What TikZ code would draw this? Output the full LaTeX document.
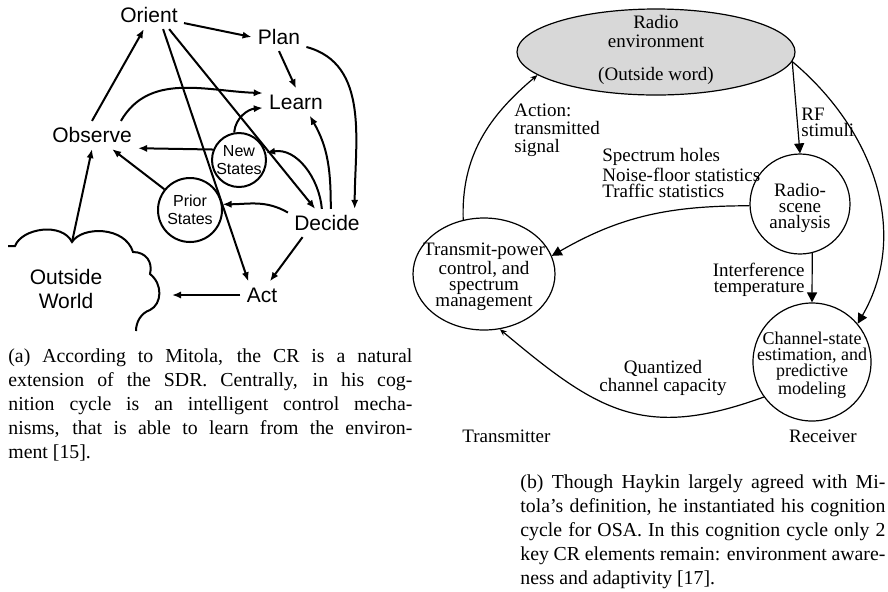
\documentclass[tikz,border=0pt]{standalone}
\usepackage{fontspec}
\setmainfont{Liberation Serif}
\newfontfamily\helv{Liberation Sans}
\usetikzlibrary{arrows.meta,shapes.geometric}

\definecolor{envgray}{RGB}{216,216,216}

\tikzset{
  state/.style={font=\helv\fontsize{10.5}{12}\selectfont, inner sep=3pt, align=center},
  memory/.style={circle, draw, line width=1pt, inner sep=0pt, align=center,
    font=\helv\fontsize{8}{9}\selectfont},
  mitola/.style={line width=1pt, -{Latex[length=4.5pt,width=3.6pt]}},
  block/.style={draw, line width=0.6pt, inner sep=0pt},
  note/.style={font=\fontsize{9.5}{8}\selectfont, inner sep=0pt},
  haykin/.style={line width=0.6pt, -{Triangle[length=5pt,width=5pt]}},
  haykinthin/.style={line width=0.6pt, -{Stealth[length=3.5pt,width=2.8pt]}},
  caption/.style={inner sep=0pt, align=justify, font=\fontsize{9.9}{12}\selectfont}
}

\begin{document}
\begin{tikzpicture}[x=0.5pt, y=-0.5pt]

% Page frame
\useasboundingbox (0,0) rectangle (888,591);

% ---------- (a) Mitola cycle ----------

% Steps of the cycle
\node[state] (orient) at (149,15) {Orient};
\node[state] (plan) at (279,37) {Plan};
\node[state] (learn) at (296,102) {Learn};
\node[state] (observe) at (92,135) {Observe};
\node[state] (decide) at (327,223) {Decide};
\node[state] (act) at (262,295) {Act};

% States
\node[memory, minimum size=27pt] (newst) at (239,160) {New\\States};
\node[memory, minimum size=32pt] (prior) at (190,210) {Prior\\States};

% Outside world cloud
\coordinate (dip) at (72,242);
\coordinate (wedge) at (172,295);
\draw[line width=1pt] (8,246) -- (15,246)
  .. controls (22,228) and (62,222) .. (dip)
  .. controls (82,226) and (125,226) .. (133,252)
  .. controls (146,252) and (153,262) .. (150,274)
  .. controls (163,284) and (162,304) .. (150,310)
  .. controls (141,313) and (136,322) .. (136,331);
\node[state] (world) at (66,289) {Outside\\World};

% Straight arrows
\draw[mitola] (dip) -- (observe.south);
\draw[mitola] (observe.north) -- (orient.250);
\draw[mitola] (orient.-13) -- (plan.west);
\draw[mitola] (orient.-45) -- (act.135);
\draw[mitola] (orient.-35) -- (decide.130);
\draw[mitola] (plan.south) -- (learn.north);
\draw[mitola] (decide.-150) -- (act.60);
\draw[mitola] (act.west) -- (wedge);
\draw[mitola] (newst.158) -- (observe.-16);
\draw[mitola] (prior.141) -- (observe.-35);

% Curved arrows
\draw[mitola] (plan.-20) to[out=-15, in=90] (decide.27);
\draw[mitola] (observe.26) to[out=60, in=178] (learn.165);
\draw[mitola] (newst.100) to[out=85, in=185] (learn.190);
\draw[mitola] (decide.75) to[out=90, in=-60] (learn.-45);
\draw[mitola] (decide.110) to[out=95, in=10] (newst.15);
\draw[mitola] (decide.165) to[out=150, in=0] (prior.10);

% Caption (a)
\node[caption, anchor=north west, text width=202pt] (capa) at (8,348) {\noindent
(a) According to Mitola, the CR is a natural\linebreak
extension of the SDR. Centrally, in his cog-\linebreak
nition cycle is an intelligent control mecha-\linebreak
nisms, that is able to learn from the environ-\linebreak
ment [15].};

% ---------- (b) Haykin cycle ----------

% Blocks
\node[block, ellipse, fill=envgray, minimum width=139pt, minimum height=43pt] (env) at (656,52) {};
\node[block, circle, minimum size=50pt] (scene) at (800,204) {};
\node[block, ellipse, minimum width=71pt, minimum height=56pt] (tpc) at (484,274) {};
\node[block, circle, minimum size=59pt] (chan) at (812,362) {};

% Block texts
\node[note, align=center, font=\fontsize{9.5}{9.5}\selectfont] (envtxt) at (656,50) {Radio\\environment\\[7pt](Outside word)};
\node[note, align=center] (scenetxt) at (800,208) {Radio-\\scene\\analysis};
\node[note, align=center] (tpctxt) at (484,277) {Transmit-power\\control, and\\spectrum\\management};
\node[note, align=center, font=\fontsize{9}{8}\selectfont] (chantxt) at (812,365) {Channel-state\\estimation, and\\predictive\\modeling};

% Arrows
\draw[haykin] (env.-4) -- (scene.north);
\draw[haykin] (env.-4) to[out=-40, in=60] (chan.40);
\draw[haykin] (scene.182) to[out=180, in=30] (tpc.15);
\draw[haykin] (scene.-76) -- (chan.north);
\draw[haykinthin] (chan.216) to[out=200, in=-40, looseness=1.2] (tpc.-74);
\draw[haykinthin] (tpc.111) to[out=92, in=-140] (env.191);

% Arrow labels
\node[note, align=left, anchor=west, font=\fontsize{9.5}{9}\selectfont] (actlbl) at (514,130) {Action:\\transmitted\\signal};
\node[note, align=left, anchor=west] (rflbl) at (801,122) {RF\\stimuli};
\node[note, align=left, anchor=west] (holes) at (602,173) {Spectrum holes\\Noise-floor statistics\\Traffic statistics};
\node[note, align=right, anchor=east] (intlbl) at (805,280) {Interference\\temperature};
\node[note, align=center] (qcap) at (663,378) {Quantized\\channel capacity};
\node[note, anchor=west] (txlbl) at (462,436) {Transmitter};
\node[note, anchor=east] (rxlbl) at (857,436) {Receiver};

% Caption (b)
\node[caption, anchor=north west, text width=182.5pt] (capb) at (520,474) {\noindent
(b) Though Haykin largely agreed with Mi-\linebreak
tola's definition, he instantiated his cognition\linebreak
cycle for OSA. In this cognition cycle only 2\linebreak
key CR elements remain: environment aware-\linebreak
ness and adaptivity [17].};

\end{tikzpicture}
\end{document}
